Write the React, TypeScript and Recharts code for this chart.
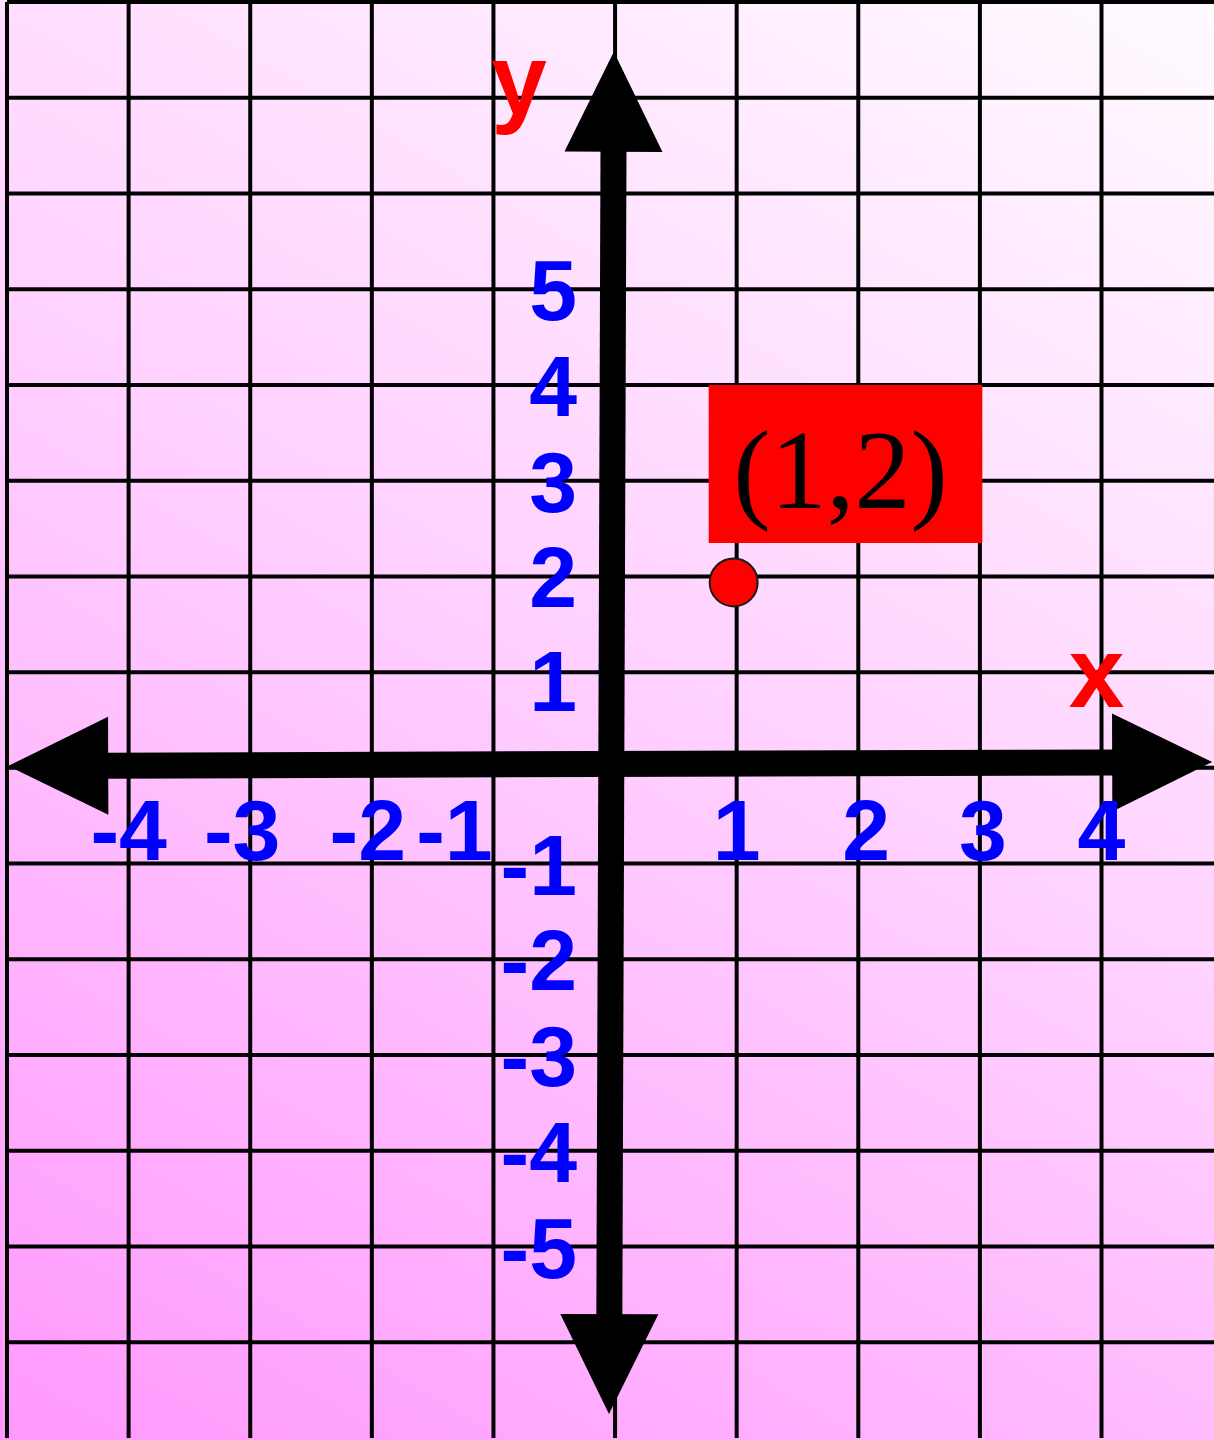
import React from 'react';
import { ScatterChart, Scatter, XAxis, YAxis, CartesianGrid, ReferenceLine, ReferenceArea } from 'recharts';

// grid lines, one per unit
const xGridTicks = [-5, -4, -3, -2, -1, 0, 1, 2, 3, 4];
const yGridTicks = [-7, -6, -5, -4, -3, -2, -1, 0, 1, 2, 3, 4, 5, 6, 7, 8];

// numbers written along the axes
const xTickLabels = [-4, -3, -2, -1, 1, 2, 3, 4];
const yTickLabels = [5, 4, 3, 2, 1, -1, -2, -3, -4, -5];

// the plotted point and its caption box
const plottedPoints = [{ x: 1, y: 2, caption: '(1,2)' }];
const captionBox = { x1: 0.77, x2: 3.02, y1: 2.35, y2: 4.0 };

// arrow ends of both axes (slightly tilted, as drawn by hand)
const xAxisEnds = [{ x: -4.99, y: 0.02 }, { x: 4.91, y: 0.06 }];
const yAxisEnds = [{ x: -0.01, y: 7.48 }, { x: -0.05, y: -6.75 }];

// axis names
const axisNames = [
  { x: 3.96, y: 0.64, name: 'x' },
  { x: -0.79, y: 6.83, name: 'y' },
];

const SANS = '"Liberation Sans", Arial, sans-serif';
const BLUE = '#0000ff';
const RED = '#ff0000';

// hand placed labels are not quite centred on their grid lines
const xLabelNudge: Record<number, number> = { [-3]: -8, [-2]: -4, [-1]: -39, [2]: 8, [3]: 3 };

const DoubleArrow = (props: any) => {
  const { x1, y1, x2, y2 } = props;
  const dx = x2 - x1;
  const dy = y2 - y1;
  const len = Math.hypot(dx, dy) || 1;
  const ux = dx / len;
  const uy = dy / len;
  const nx = -uy;
  const ny = ux;
  const L = 100;
  const W = 49;
  const head = (tx: number, ty: number, dir: number) => {
    const bx = tx + dir * L * ux;
    const by = ty + dir * L * uy;
    return `${tx},${ty} ${bx + W * nx},${by + W * ny} ${bx - W * nx},${by - W * ny}`;
  };
  return (
    <g>
      <line
        x1={x1 + (L - 4) * ux}
        y1={y1 + (L - 4) * uy}
        x2={x2 - (L - 4) * ux}
        y2={y2 - (L - 4) * uy}
        stroke="#000"
        strokeWidth={26}
      />
      <polygon points={head(x1, y1, 1)} fill="#000" />
      <polygon points={head(x2, y2, -1)} fill="#000" />
    </g>
  );
};

const XTickText = (p: any) => (
  <text
    x={p.cx + (xLabelNudge[p.payload.x] ?? 0)}
    y={p.cy + 92}
    textAnchor="middle"
    fontFamily={SANS}
    fontWeight="bold"
    fontSize={86}
    fill={BLUE}
  >
    {String(p.payload.x)}
  </text>
);

const YTickText = (p: any) => (
  <text
    x={p.cx - 38}
    y={p.cy + 31 + (p.payload.y === 1 ? 8 : 0)}
    textAnchor="end"
    fontFamily={SANS}
    fontWeight="bold"
    fontSize={86}
    fill={BLUE}
  >
    {String(p.payload.y)}
  </text>
);

const AxisNameText = (p: any) => (
  <text
    x={p.cx}
    y={p.cy}
    textAnchor="middle"
    fontFamily={SANS}
    fontWeight="bold"
    fontSize={100}
    fill={RED}
  >
    {p.payload.name}
  </text>
);

const PointDot = (p: any) => (
  <circle cx={p.cx - 3} cy={p.cy + 6} r={24} fill={RED} stroke="#1a1a1a" strokeWidth={2} />
);

const CaptionText = (props: any) => {
  const { x, y, width } = props.viewBox;
  return (
    <text
      x={x + width / 2 - 5}
      y={y + 123}
      textAnchor="middle"
      fontFamily='"Liberation Serif", "Times New Roman", serif'
      fontSize={112}
      fill="#000"
    >
      {plottedPoints[0].caption}
    </text>
  );
};

export default function App() {
  return (
    <div
      style={{
        position: 'absolute',
        left: 0,
        top: 0,
        width: 1214,
        height: 1440,
        background: 'linear-gradient(30deg, #ff99fd 0%, #ffd0ff 52%, #fffbff 100%)',
      }}
    >
      <ScatterChart width={1214} height={1440} margin={{ top: 2, right: 0, bottom: 2, left: 7 }}>
        <CartesianGrid stroke="#000" strokeWidth={4} syncWithTicks />
        <XAxis type="number" dataKey="x" domain={[-5, 4.925]} ticks={xGridTicks} allowDataOverflow hide />
        <YAxis type="number" dataKey="y" domain={[-7, 8]} ticks={yGridTicks} allowDataOverflow hide />
        <ReferenceArea
          x1={captionBox.x1}
          x2={captionBox.x2}
          y1={captionBox.y1}
          y2={captionBox.y2}
          fill={RED}
          fillOpacity={1}
          stroke="none"
          ifOverflow="visible"
          label={CaptionText}
        />
        <ReferenceLine segment={xAxisEnds} ifOverflow="visible" shape={DoubleArrow} />
        <ReferenceLine segment={yAxisEnds} ifOverflow="visible" shape={DoubleArrow} />
        <Scatter data={xTickLabels.map((v) => ({ x: v, y: 0 }))} shape={XTickText} isAnimationActive={false} />
        <Scatter data={yTickLabels.map((v) => ({ x: 0, y: v }))} shape={YTickText} isAnimationActive={false} />
        <Scatter data={axisNames} shape={AxisNameText} isAnimationActive={false} />
        <Scatter data={plottedPoints} shape={PointDot} isAnimationActive={false} />
      </ScatterChart>
    </div>
  );
}
